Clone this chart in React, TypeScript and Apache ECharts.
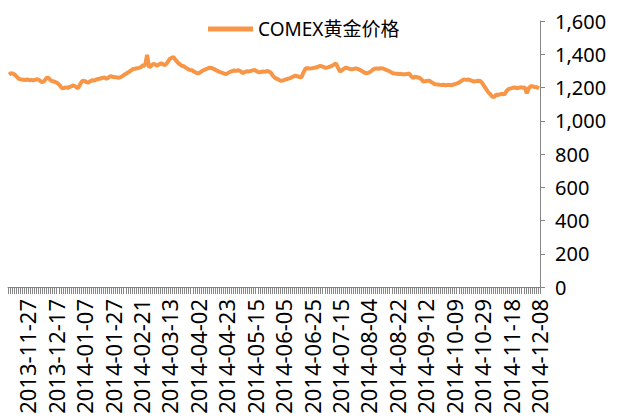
import React, { useEffect, useRef } from "react";
import * as echarts from "echarts";

const seriesName = "COMEX黄金价格";
const startDate = "2013-11-14";
const endDate = "2014-12-08";
const holidays = [
  "2014-01-01",
  "2014-01-31", "2014-02-03", "2014-02-04", "2014-02-05", "2014-02-06",
  "2014-04-07",
  "2014-05-01", "2014-05-02",
  "2014-06-02",
  "2014-09-08",
  "2014-10-01", "2014-10-02", "2014-10-03", "2014-10-06", "2014-10-07",
];
const tickLabels = [
  "2013-11-27", "2013-12-17", "2014-01-07", "2014-01-27", "2014-02-21", "2014-03-13",
  "2014-04-02", "2014-04-23", "2014-05-15", "2014-06-05", "2014-06-25", "2014-07-15",
  "2014-08-04", "2014-08-22", "2014-09-12", "2014-10-09", "2014-10-29", "2014-11-18",
  "2014-12-08",
];
const goldPrice = [
  1278, 1287, 1283, 1275, 1262, 1251, 1249, 1247, 1245, 1248,
  1244, 1246, 1243, 1247, 1250, 1244, 1233, 1235, 1250, 1262,
  1250, 1239, 1236, 1232, 1225, 1213, 1196, 1197, 1201, 1198,
  1204, 1209, 1212, 1203, 1195, 1219, 1238, 1241, 1233, 1229,
  1238, 1244, 1242, 1248, 1251, 1254, 1258, 1260, 1252, 1260,
  1268, 1265, 1262, 1261, 1258, 1262, 1270, 1278, 1286, 1293,
  1302, 1311, 1313, 1316, 1318, 1322, 1334, 1331, 1396, 1320,
  1330, 1342, 1339, 1331, 1340, 1346, 1338, 1335, 1350, 1370,
  1378, 1382, 1366, 1352, 1340, 1331, 1328, 1320, 1312, 1306,
  1304, 1296, 1290, 1285, 1290, 1299, 1305, 1310, 1316, 1319,
  1316, 1311, 1303, 1298, 1292, 1288, 1283, 1281, 1288, 1295,
  1299, 1302, 1300, 1304, 1298, 1287, 1292, 1298, 1296, 1300,
  1303, 1305, 1298, 1291, 1293, 1296, 1294, 1299, 1297, 1288,
  1270, 1258, 1252, 1245, 1240, 1243, 1247, 1251, 1255, 1260,
  1266, 1271, 1268, 1263, 1261, 1290, 1314, 1316, 1314, 1315,
  1318, 1320, 1323, 1330, 1328, 1322, 1319, 1321, 1325, 1330,
  1338, 1345, 1320, 1296, 1305, 1314, 1319, 1315, 1311, 1309,
  1313, 1315, 1310, 1305, 1298, 1290, 1285, 1289, 1295, 1305,
  1313, 1315, 1313, 1316, 1315, 1310, 1305, 1300, 1293, 1286,
  1284, 1283, 1281, 1282, 1280, 1279, 1281, 1285, 1268, 1256,
  1265, 1262, 1259, 1250, 1236, 1238, 1240, 1241, 1232, 1225,
  1219, 1218, 1216, 1215, 1217, 1213, 1216, 1215, 1214, 1218,
  1222, 1226, 1233, 1241, 1249, 1246, 1248, 1245, 1240, 1235,
  1238, 1241, 1239, 1228, 1208, 1190, 1172, 1160, 1145, 1143,
  1158, 1155, 1160, 1162, 1159, 1178, 1190, 1195, 1198, 1200,
  1196, 1198, 1201, 1199, 1200, 1165, 1196, 1209, 1206, 1203,
  1201, 1194,
];

function tradingDays(start: string, end: string, skip: string[]): string[] {
  const out: string[] = [];
  const d = new Date(start + "T00:00:00Z");
  const e = new Date(end + "T00:00:00Z");
  while (d.getTime() <= e.getTime()) {
    const wd = d.getUTCDay();
    const s = d.toISOString().slice(0, 10);
    if (wd !== 0 && wd !== 6 && skip.indexOf(s) < 0) out.push(s);
    d.setUTCDate(d.getUTCDate() + 1);
  }
  return out;
}

const categories = tradingDays(startDate, endDate, holidays);

export default function App() {
  const ref = useRef<HTMLDivElement>(null);
  useEffect(() => {
    if (!ref.current) return;
    const chart = echarts.init(ref.current, undefined, { renderer: "svg" });
    const axisGray = "#868686";
    chart.setOption({
      animation: false,
      backgroundColor: "#ffffff",
      textStyle: { fontFamily: "'Noto Sans', 'Noto Sans CJK SC', sans-serif" },
      legend: {
        left: 203,
        top: 11,
        icon: "rect",
        itemWidth: 45,
        itemHeight: 5,
        itemGap: 10,
        textStyle: {
          fontSize: 19,
          color: "#000",
          lineHeight: 26,
          fontFamily: "'Noto Sans', 'Noto Sans CJK SC', sans-serif",
        },
        data: [seriesName],
      },
      grid: { left: 8, right: 81, top: 21, bottom: 133, containLabel: false },
      xAxis: {
        type: "category",
        data: categories,
        boundaryGap: true,
        axisLine: { show: true, lineStyle: { color: axisGray, width: 1 } },
        axisTick: { show: true, interval: 0, length: 7, lineStyle: { color: axisGray } },
        axisLabel: {
          interval: (i: number, v: string) => tickLabels.indexOf(v) >= 0,
          rotate: 90,
          fontSize: 22,
          color: "#000",
          margin: 12,
          fontFamily: "'Noto Sans', sans-serif",
        },
        splitLine: { show: false },
      },
      yAxis: {
        type: "value",
        position: "right",
        min: 0,
        max: 1600,
        interval: 200,
        axisLine: { show: true, lineStyle: { color: axisGray, width: 1 } },
        axisTick: { show: true, length: 5, lineStyle: { color: axisGray } },
        axisLabel: {
          fontSize: 20,
          color: "#000",
          margin: 15,
          formatter: (v: number) => v.toLocaleString("en-US"),
          fontFamily: "'Noto Sans', sans-serif",
        },
        splitLine: { show: false },
      },
      series: [
        {
          name: seriesName,
          type: "line",
          data: goldPrice,
          showSymbol: false,
          symbol: "none",
          color: "#F79646",
          lineStyle: { color: "#F79646", width: 4 },
        },
      ],
    });
    return () => chart.dispose();
  }, []);
  return (
    <div
      ref={ref}
      style={{ position: "fixed", left: 0, top: 0, width: 621, height: 420, background: "#fff" }}
    />
  );
}
